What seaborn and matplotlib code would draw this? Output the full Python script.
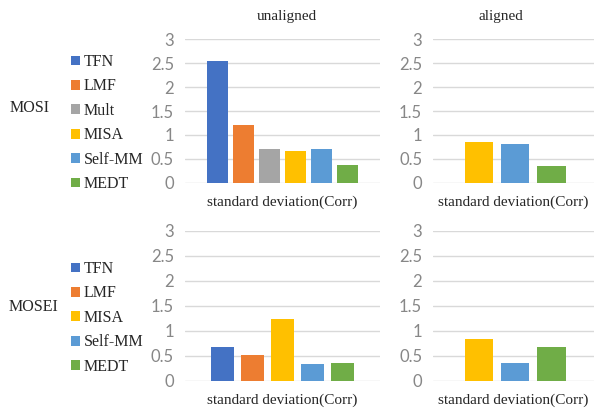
import pandas as pd
import matplotlib
matplotlib.use('Agg')
import matplotlib.pyplot as plt
import seaborn as sns

# Data
mosi_models = ['TFN', 'LMF', 'Mult', 'MISA', 'Self-MM', 'MEDT']
mosi_unaligned = [2.55, 1.20, 0.71, 0.66, 0.70, 0.38]
aligned_models = ['MISA', 'Self-MM', 'MEDT']
mosi_aligned = [0.85, 0.82, 0.34]
mosei_models = ['TFN', 'LMF', 'MISA', 'Self-MM', 'MEDT']
mosei_unaligned = [0.67, 0.51, 1.24, 0.33, 0.35]
mosei_aligned = [0.83, 0.35, 0.67]
row_labels = ['MOSI', 'MOSEI']
col_titles = ['unaligned', 'aligned']
xlabel = 'standard deviation(Corr)'

colors = {'TFN': '#4472C4', 'LMF': '#ED7D31', 'Mult': '#A5A5A5',
          'MISA': '#FFC000', 'Self-MM': '#5B9BD5', 'MEDT': '#70AD47'}

sns.set_theme(style='whitegrid', rc={'grid.color': '#D9D9D9', 'grid.linewidth': 1.0})
plt.rcParams['font.family'] = ['Liberation Serif', 'DejaVu Serif']

W, H = 594, 411
fig = plt.figure(figsize=(W / 100, H / 100), dpi=100)


def px_axes(left, top, right, bottom):
    return fig.add_axes([left / W, 1 - bottom / H, (right - left) / W, (bottom - top) / H])


def draw(ax, models, values, xlim, legend):
    df = pd.DataFrame({'model': models, 'value': values})
    sns.barplot(data=df, x='model', y='value', hue='model', order=models,
                hue_order=models, palette=colors, saturation=1, width=0.79,
                linewidth=0, legend=legend, ax=ax)
    ax.set_xlim(*xlim)
    ax.set_ylim(0, 3)
    ax.set_yticks([0, 0.5, 1, 1.5, 2, 2.5, 3])
    ax.set_yticklabels(['0', '0.5', '1', '1.5', '2', '2.5', '3'])
    ax.xaxis.grid(False)
    ax.tick_params(axis='x', length=0, labelbottom=False)
    ax.tick_params(axis='y', length=0, pad=8, labelsize=12, labelcolor='#878787')
    for lab in ax.get_yticklabels():
        lab.set_family(['Lato', 'DejaVu Sans'])
        lab.set_fontweight('normal')
    ax.set_ylabel('')
    ax.set_xlabel(xlabel, fontsize=11, color='#262626', labelpad=9)
    sns.despine(ax=ax, left=True, bottom=True)


ax1 = px_axes(185, 39.3, 380, 182.7)
draw(ax1, mosi_models, mosi_unaligned, (-1.24, 6.26), True)
ax2 = px_axes(433.3, 39.3, 594, 182.7)
draw(ax2, aligned_models, mosi_aligned, (-1.26, 3.18), False)
ax3 = px_axes(185, 230.7, 380, 380.7)
draw(ax3, mosei_models, mosei_unaligned, (-1.25, 5.25), True)
ax4 = px_axes(433.3, 230.7, 594, 380.7)
draw(ax4, aligned_models, mosei_aligned, (-1.26, 3.18), False)

ax1.set_title(col_titles[0], fontsize=11, color='#262626', x=0.52, pad=14)
ax2.set_title(col_titles[1], fontsize=11, color='#262626', x=0.42, pad=14)

# legends to the left of the left-hand panels
for ax, top in [(ax1, 54), (ax3, 261)]:
    sns.move_legend(ax, 'upper left', bbox_to_anchor=(71 / W, 1 - top / H),
                    bbox_transform=fig.transFigure, frameon=False, title=None,
                    prop={'family': 'Liberation Serif', 'size': 11.5},
                    handlelength=0.55, handleheight=0.55, handletextpad=0.25,
                    labelspacing=0.53, borderpad=0, borderaxespad=0)

fig.text(30 / W, 1 - 108 / H, row_labels[0], ha='center', va='center', fontsize=11.5, color='#262626')
fig.text(33 / W, 1 - 307 / H, row_labels[1], ha='center', va='center', fontsize=11.5, color='#262626')

fig.savefig('out.png', dpi=100)
